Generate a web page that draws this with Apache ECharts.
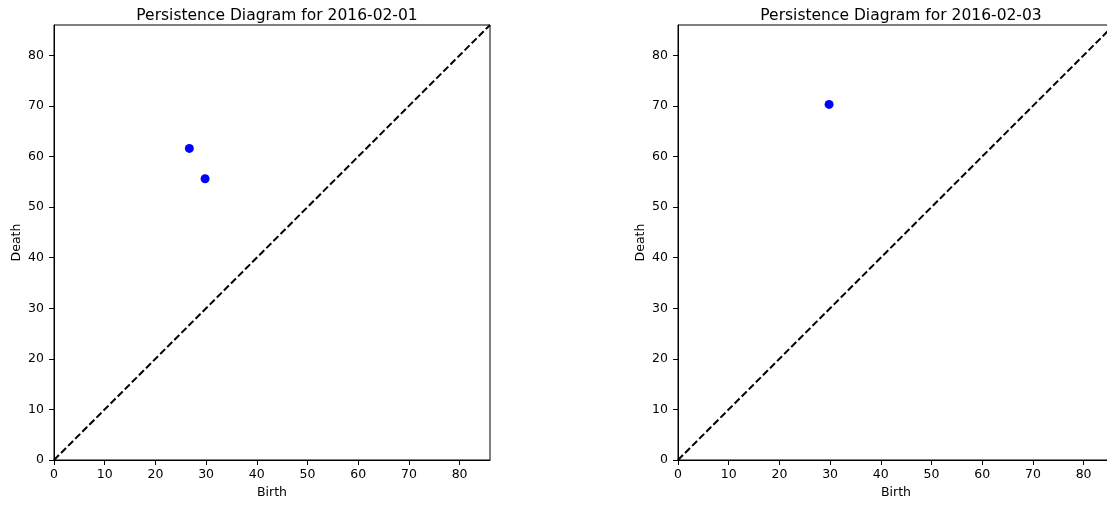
<!DOCTYPE html>
<html>
<head>
<meta charset="utf-8">
<title>Persistence Diagrams</title>
<script src="https://cdn.jsdelivr.net/npm/echarts@6/dist/echarts.min.js"></script>
<style>
  html, body { margin: 0; padding: 0; background: #fff; overflow: hidden; }
  /* 右图在原图中被裁掉一部分，所以画布比窗口略宽 */
  #chart { width: 1125px; height: 505px; }
</style>
</head>
<body>
<div id="chart"></div>
<script>
// 两天的持久图数据（birth / death）
var dates = ["2016-02-01", "2016-02-03"];
var birth1 = [26.7, 29.8];
var death1 = [61.6, 55.6];
var birth2 = [29.8];
var death2 = [70.3];
// 对角线 y = x 的两个端点
var diagonal = [0, 86];
// 刻度
var tickValues = [0, 10, 20, 30, 40, 50, 60, 70, 80];

var FONT = "DejaVu Sans";

function pairs(xs, ys) {
    var out = [];
    for (var i = 0; i < xs.length; i++) {
        out.push([xs[i], ys[i]]);
    }
    return out;
}

// 坐标轴模板
function axis(idx, name, isX) {
    return {
        type: "value",
        gridIndex: idx,
        min: 0,
        max: 86,
        name: name,
        nameLocation: "middle",
        nameGap: isX ? 26 : 31,
        nameTextStyle: { color: "#000", fontSize: 12.5, fontFamily: FONT },
        axisLine: { show: true, onZero: false, lineStyle: { color: "#000", width: 1 } },
        axisTick: {
            show: true, inside: false, length: 5,
            customValues: tickValues,
            lineStyle: { color: "#000", width: 1 }
        },
        axisLabel: {
            color: "#000", fontSize: 12.5, fontFamily: FONT,
            margin: isX ? 8 : 10,
            customValues: tickValues
        },
        splitLine: { show: false }
    };
}

var grids = [
    { left: 54, top: 25, width: 436, height: 435 },
    { left: 678, top: 25, width: 436, height: 435 }
];

var option = {
    animation: false,
    backgroundColor: "#fff",
    title: grids.map(function(g, i) {
        return {
            text: "Persistence Diagram for " + dates[i],
            left: g.left + g.width / 2,
            top: 3,
            textAlign: "center",
            textStyle: { color: "#000", fontSize: 15.5, fontWeight: "normal", fontFamily: FONT }
        };
    }),
    grid: grids.map(function(g) {
        return {
            left: g.left, top: g.top, width: g.width, height: g.height,
            show: true, borderColor: "#000", borderWidth: 1, backgroundColor: "transparent"
        };
    }),
    xAxis: [axis(0, "Birth", true), axis(1, "Birth", true)],
    yAxis: [axis(0, "Death", false), axis(1, "Death", false)],
    series: [
        {
            type: "line", xAxisIndex: 0, yAxisIndex: 0,
            data: pairs(diagonal, diagonal),
            symbol: "none",
            lineStyle: { color: "#000", width: 2, type: [7, 3] },
            z: 2
        },
        {
            type: "line", xAxisIndex: 1, yAxisIndex: 1,
            data: pairs(diagonal, diagonal),
            symbol: "none",
            lineStyle: { color: "#000", width: 2, type: [7, 3] },
            z: 2
        },
        {
            type: "scatter", xAxisIndex: 0, yAxisIndex: 0,
            data: pairs(birth1, death1),
            symbol: "circle", symbolSize: 9,
            itemStyle: { color: "#0000ff", opacity: 1 },
            z: 3
        },
        {
            type: "scatter", xAxisIndex: 1, yAxisIndex: 1,
            data: pairs(birth2, death2),
            symbol: "circle", symbolSize: 9,
            itemStyle: { color: "#0000ff", opacity: 1 },
            z: 3
        }
    ]
};

var chart = echarts.init(document.getElementById("chart"), null, { renderer: "canvas" });
chart.setOption(option);
</script>
</body>
</html>
